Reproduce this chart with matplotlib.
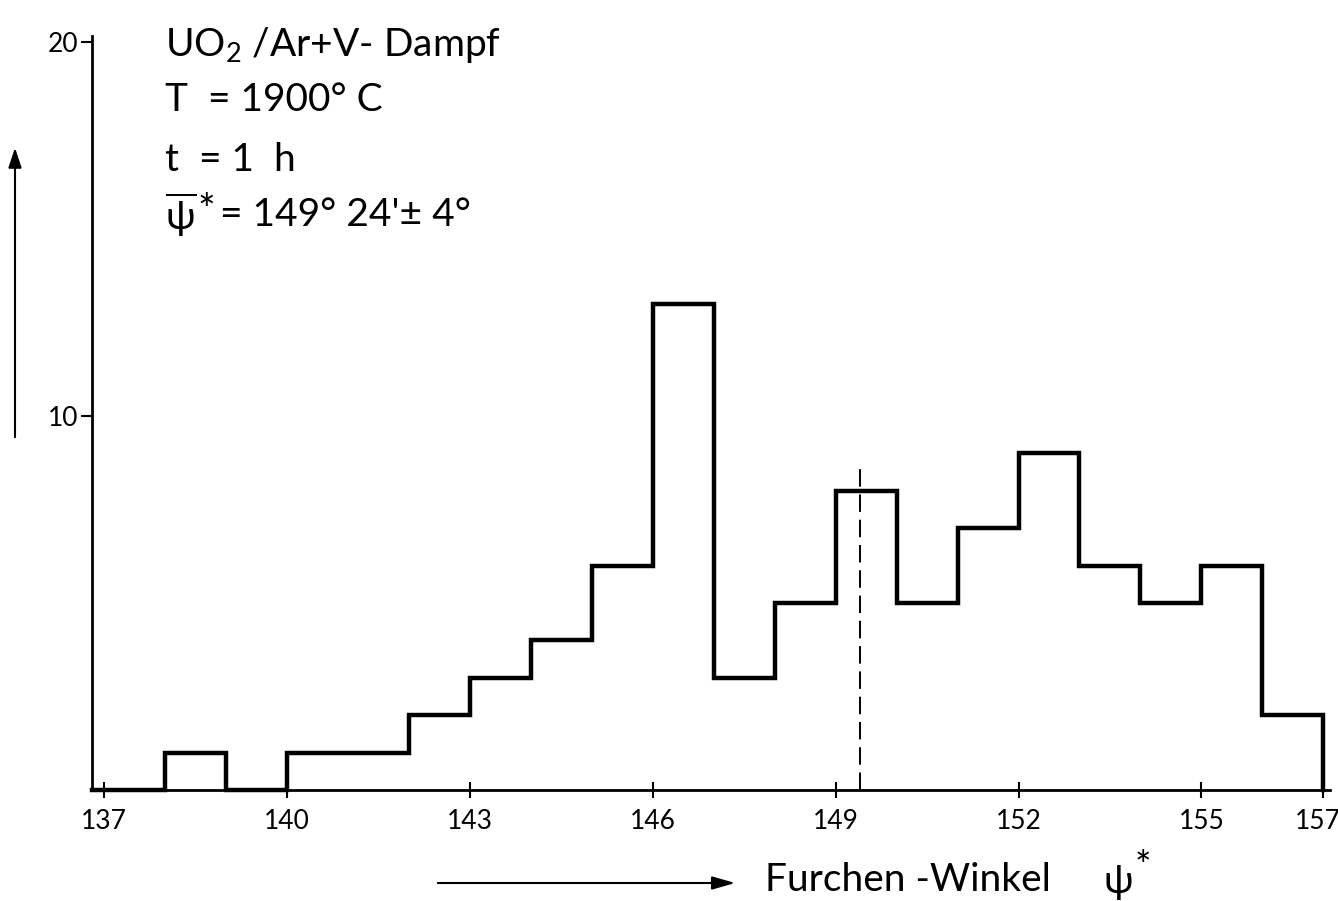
import numpy as np
import matplotlib
matplotlib.use("Agg")
import matplotlib.pyplot as plt
from matplotlib.transforms import ScaledTranslation

# bin edges (degrees) and counts per bin
edges = np.arange(137, 158, 1)
counts = [0, 1, 0, 1, 1, 2, 3, 4, 6, 13, 3, 5, 8, 5, 7, 9, 6, 5, 6, 2]
mean_angle = 149.4
mean_line_top = 8.6
xticks = [137, 140, 143, 146, 149, 152, 155, 157]
yticks = [10, 20]

plt.rcParams['font.family'] = ['Lato', 'DejaVu Sans']
plt.rcParams['mathtext.fontset'] = 'custom'
plt.rcParams['mathtext.rm'] = 'Lato'

W, H = 1338, 901
fig = plt.figure(figsize=(W / 100, H / 100), dpi=100)
ax = fig.add_axes([92 / W, 1 - 790 / H, (1330 - 92) / W, (790 - 36) / H])

# step outline of the histogram
x = np.concatenate([[136.8], np.repeat(edges, 2)])
y = np.concatenate([[0, 0], np.repeat(counts, 2), [0]])
ax.plot(x, y, color='black', lw=3.2, solid_joinstyle='miter', clip_on=False)

# mean value marker
ax.plot([mean_angle, mean_angle], [0, mean_line_top], color='black', lw=1.4,
        dashes=(9, 4))

ax.set_xlim(136.8, 157.11)
ax.set_ylim(0, 20.16)
ax.set_xticks(xticks)
ax.set_yticks(yticks)
ax.tick_params(axis='x', direction='inout', length=12, width=1.5, labelsize=19, pad=8)
ax.tick_params(axis='y', direction='out', length=8, width=1.5, labelsize=19, pad=2)
last = ax.get_xticklabels()[-1]
last.set_transform(last.get_transform() + ScaledTranslation(-6 / 100, 0, fig.dpi_scale_trans))
for s in ['top', 'right']:
    ax.spines[s].set_visible(False)
for s in ['left', 'bottom']:
    ax.spines[s].set_linewidth(2)

# annotation block
txt = dict(fontsize=28, color='black', transform=fig.transFigure, va='center', ha='left')
fig.text(165 / W, 1 - 45 / H, r'UO$_{\mathregular{2}}$ /Ar+V- Dampf', **txt)
fig.text(165 / W, 1 - 100 / H, 'T  = 1900° C', **txt)
fig.text(165 / W, 1 - 160 / H, 't  = 1  h', **txt)
fig.text(165 / W, 1 - 215 / H, r"$\overline{\mathregular{ψ}}$", **txt)
fig.text(197 / W, 1 - 212 / H, '*', fontsize=30, transform=fig.transFigure,
         va='center', ha='left')
fig.text(220 / W, 1 - 215 / H, "= 149° 24'± 4°", **txt)

# axis arrows
fig.add_artist(matplotlib.patches.FancyArrowPatch(
    (15 / W, 1 - 440 / H), (15 / W, 1 - 145 / H), transform=fig.transFigure,
    arrowstyle='-|>,head_length=12,head_width=4', mutation_scale=1,
    color='black', lw=1.5))
fig.add_artist(matplotlib.patches.FancyArrowPatch(
    (435 / W, 1 - 883 / H), (738 / W, 1 - 883 / H), transform=fig.transFigure,
    arrowstyle='-|>,head_length=14,head_width=4', mutation_scale=1,
    color='black', lw=1.5))
fig.text(765 / W, 1 - 880 / H, 'Furchen -Winkel', fontsize=28,
         transform=fig.transFigure, va='center', ha='left')
fig.text(1103 / W, 1 - 882 / H, 'ψ', fontsize=28,
         transform=fig.transFigure, va='center', ha='left')
fig.text(1135 / W, 1 - 868 / H, '*', fontsize=28,
         transform=fig.transFigure, va='center', ha='left')

fig.savefig('out.png', dpi=100)
